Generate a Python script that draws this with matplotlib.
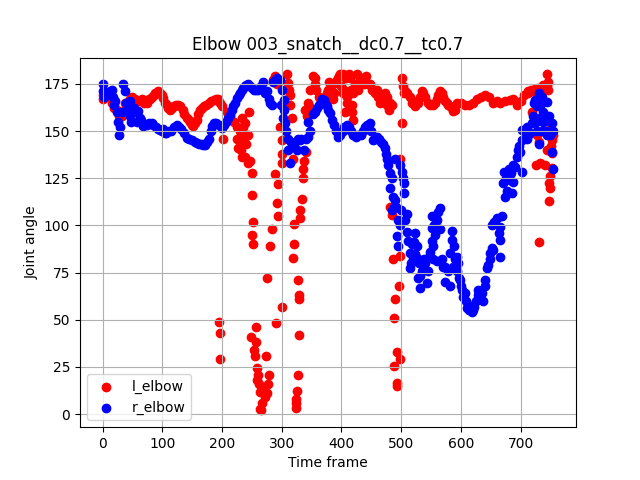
import matplotlib
matplotlib.use("Agg")
from matplotlib import pyplot as plt

# (frame, angle) pairs
l_elbow = [
    (0, 167), (1, 169), (4, 168), (10, 168), (15, 165), (20, 162), (24, 161), (28, 158), (30, 160), (33, 158), (35, 160),
    (38, 165), (40, 162), (43, 165), (46, 167), (49, 168), (52, 167), (55, 167), (58, 166), (62, 166), (66, 167),
    (70, 165), (74, 165), (77, 167), (80, 167), (83, 168), (86, 169), (88, 170), (91, 170), (93, 171), (96, 170),
    (99, 169), (102, 167.5), (105, 165), (108, 164), (110, 162), (113, 161), (116, 162), (120, 163), (123, 164),
    (127, 164), (130, 163), (134, 161), (137, 159), (141, 157), (144, 156), (147, 155), (150, 153), (152, 152.5),
    (155, 154), (158, 156), (160, 159), (163, 161), (166, 162), (170, 163), (174, 164), (178, 165), (182, 166),
    (186, 166.7), (190, 167), (193, 167), (197, 165), (200, 163), (202, 146),
    (195, 49), (196, 43), (197, 29),
    (208, 160), (214, 158), (220, 155), (225, 152), (230, 150), (233, 157), (234, 148), (236, 152), (239, 154),
    (225, 146), (227, 141), (230, 142), (232, 140), (234, 136), (236, 144), (241, 143), (243, 148), (246, 160),
    (239, 136), (244, 133), (247, 134), (250, 128), (250, 116), (252, 102), (250, 95), (252, 90),
    (257, 46), (249, 41), (257, 38), (254, 34), (255, 31), (273, 31), (258, 24.5), (260, 21), (279, 21),
    (262, 16), (277, 16), (275, 11), (272, 9), (267, 6), (265, 2), (263, 3), (270, 14), (258, 18), (264, 12),
    (275, 72), (281, 89), (283, 98), (293, 105), (292, 112), (294, 122), (288, 127), (301, 133), (300, 138),
    (301, 145), (297, 152), (292, 175), (289, 179), (286, 177), (290, 48.5), (300, 57),
    (309, 180), (310, 175.6), (312, 172), (314, 169), (314, 164), (317, 157), (319, 135), (321, 90), (319, 83),
    (321, 101), (328, 71), (329, 63), (329, 61), (328, 21), (326, 12.5), (324, 8), (324, 6), (324, 3.5), (329, 42),
    (331, 104), (331, 108), (334, 114), (335, 125), (336, 130), (338, 134), (340, 139), (339, 161), (342, 158),
    (344, 165), (346, 163), (348, 172), (353, 179), (355, 178), (356, 175), (358, 172), (362, 168), (365, 166),
    (369, 167), (372, 168), (375, 170), (378, 172), (380, 176), (383, 172), (386, 167), (388, 170), (390, 175.6),
    (392, 177), (394, 178), (396, 179), (398, 180), (400, 174), (403, 180), (405, 172), (406, 160), (403, 170),
    (408, 178), (409, 165), (410, 168), (412, 180), (414, 164), (416, 172), (417, 164), (418, 160), (420, 156),
    (414, 178), (420, 170), (423, 175), (426, 180), (428, 172), (431, 178), (434, 178), (437, 175), (441, 179),
    (444, 175), (448, 175), (451, 172), (454, 172), (456, 170), (459, 172), (462, 168), (465, 165), (468, 166),
    (473, 170), (476, 164), (477, 168), (481, 165), (479, 161), (484, 164),
    (501, 178), (503, 174), (498, 135), (497, 68), (490, 61), (488, 51), (493, 33), (498, 29), (488, 25.6),
    (493, 15), (493, 16.5), (487, 82), (484, 105.7), (482, 110), (498, 83.6), (501, 154),
    (505, 170), (507, 171), (510, 170), (515, 168), (518, 165), (523, 163), (526, 166), (529, 165), (532, 168),
    (535, 171), (537, 170), (540, 168), (545, 165), (549, 164), (554, 164), (557, 165), (560, 167), (562, 169),
    (565, 171), (568, 170), (570, 168), (573, 166), (576, 165), (579, 164), (582, 163), (585, 162), (587, 160.5),
    (590, 161), (594, 165), (600, 165), (607, 164), (614, 164), (620, 165), (627, 167), (634, 168), (640, 169),
    (647, 168), (654, 165), (660, 166), (666, 165), (674, 166), (682, 166.7), (688, 167), (694, 164), (700, 166),
    (705, 169), (712, 170), (712, 171), (717, 172), (721, 172), (724, 172.5), (725, 170), (729, 173), (732, 173),
    (735, 172), (738, 174.6), (740, 172), (744, 174), (746, 172), (746, 176), (744, 180),
    (719, 160), (727, 148), (730, 144), (726, 132), (733, 133), (741, 132), (752, 130.6), (752, 138.5), (754, 148),
    (752, 145.5), (748, 155), (750, 150), (751, 142), (745, 140), (749, 126), (747, 122.6), (750, 120), (748, 113),
    (731, 91),
]

r_elbow = [
    (0, 175), (1, 171), (3, 168), (5, 170), (8, 170), (12, 171), (15, 172), (18, 168), (20, 164), (21, 166), (24, 160),
    (26, 155), (28, 148), (30, 152), (32, 160), (35, 175), (37, 171), (40, 165), (42, 162), (46, 166), (46, 158),
    (48, 155), (52, 162), (55, 160), (57, 155), (60, 160.5), (62, 157), (64, 156), (68, 152.5), (70, 153), (75, 153),
    (78, 154), (82, 154), (85, 153), (89, 152), (93, 151), (96, 150.7), (99, 150), (102, 151), (105, 149), (107, 149),
    (111, 150), (115, 150), (119, 152), (124, 153.4), (128, 152), (132, 151), (136, 149), (141, 146.4), (145, 146),
    (150, 145), (154, 144), (158, 143.7), (161, 143), (165, 143), (168, 142.5), (172, 142.8), (175, 144), (178, 146),
    (181, 150), (183, 152.5), (187, 154), (190, 154), (195, 153), (200, 151.7), (203, 153), (207, 155), (210, 157),
    (213, 158.7), (216, 161), (219, 163), (222, 165), (225, 167.5), (228, 169), (230, 170), (233, 172), (236, 173),
    (238, 174), (241, 174.6), (244, 175), (247, 174), (250, 173), (253, 172), (257, 172), (261, 172), (265, 174),
    (269, 176), (272, 170), (275, 171), (278, 167), (280, 165), (283, 164), (286, 176), (289, 177), (292, 178),
    (297, 177), (300, 172), (299, 164), (302, 157), (303, 166.7), (304, 161), (306, 154), (308, 150), (310, 140),
    (311, 146), (314, 133), (316, 144), (319, 142), (322, 144), (325, 140), (328, 146), (330, 145.5), (333, 146),
    (337, 140), (340, 146), (344, 147), (344, 155), (348, 150), (352, 159), (355, 160), (359, 162), (362, 164),
    (365, 165), (368, 167), (370, 166.7), (373, 165), (376, 163), (378, 161), (381, 159.6), (384, 156), (388, 153),
    (391, 150), (395, 147), (398, 148), (402, 150), (405, 152), (409, 153.4), (412, 152), (416, 150), (420, 148),
    (424, 147), (428, 148), (432, 148), (436, 150), (440, 152), (443, 153), (447, 154), (450, 150), (453, 145.5),
    (456, 146), (460, 147), (463, 146), (467, 144), (470, 143), (473, 141), (475, 138), (476, 135), (478, 132),
    (490, 135), (481, 128), (501, 128.5), (482, 120), (504, 122.6), (504, 117), (490, 113.6), (484, 108), (484, 125),
    (486, 115), (488, 110), (492, 110), (498, 132), (503, 125), (500, 108), (498, 100), (509, 106), (495, 103),
    (506, 103), (493, 94.5), (495, 89), (510, 96.6), (512, 92), (518, 90), (523, 96), (521, 91), (526, 89),
    (515, 85.5), (520, 82), (523, 85), (517, 80), (515, 77.6), (526, 83), (529, 72), (535, 76), (538, 82), (530, 80),
    (540, 80), (545, 76), (546, 83.5), (548, 86), (552, 92), (553, 82), (555, 100), (560, 81), (560, 103), (562, 107),
    (532, 73), (531, 67), (544, 69.6), (551, 98.8), (551, 105), (565, 109), (565, 98), (557, 95), (554, 89),
    (569, 82), (574, 78), (578, 76), (585, 97), (585, 92.5), (589, 89), (582, 85.5), (593, 83.5), (586, 78),
    (590, 82), (594, 76), (570, 78), (574, 70), (582, 68), (596, 80), (597, 72), (599, 71), (600, 68), (602, 66),
    (604, 62), (607, 64), (608, 60), (610, 56.5), (612, 58), (613, 55), (616, 56), (618, 54), (620, 55), (622, 57),
    (625, 60), (628, 63), (629, 66), (632, 62), (635, 64), (637, 60), (640, 68), (641, 71), (644, 77.6), (646, 79),
    (648, 82), (649, 85.5), (652, 88), (652, 100), (656, 102), (660, 104), (666, 99), (669, 105), (663, 96),
    (666, 92.5), (654, 87), (666, 83.5), (674, 115), (678, 118), (682, 124), (676, 125), (680, 130), (684, 128),
    (685, 117), (671, 122.6), (688, 123), (688, 132), (673, 128.5), (691, 131), (702, 128.5), (694, 136), (695, 140),
    (697, 142), (699, 139), (702, 145.5), (702, 150.7), (705, 150), (710, 152), (712, 148), (716, 149), (719, 154),
    (720, 158), (725, 155), (728, 150), (733, 157), (735, 150), (738, 155), (724, 166.7), (722, 165), (730, 170),
    (735, 168), (733, 163), (744, 165.6), (741, 158), (742, 150), (748, 158), (750, 148), (752, 154), (755, 150),
    (744, 148), (731, 143), (753, 139), (755, 130), (727, 163), (737, 160), (710, 146),
]

l_frames = [p[0] for p in l_elbow]
l_angles = [p[1] for p in l_elbow]
r_frames = [p[0] for p in r_elbow]
r_angles = [p[1] for p in r_elbow]

plt.scatter(l_frames, l_angles, color="red", label="l_elbow")
plt.scatter(r_frames, r_angles, color="blue", label="r_elbow")
plt.xlabel("Time frame")
plt.ylabel("Joint angle")
plt.title("Elbow 003_snatch__dc0.7__tc0.7")
plt.legend()
plt.grid()
plt.savefig("out.png")
